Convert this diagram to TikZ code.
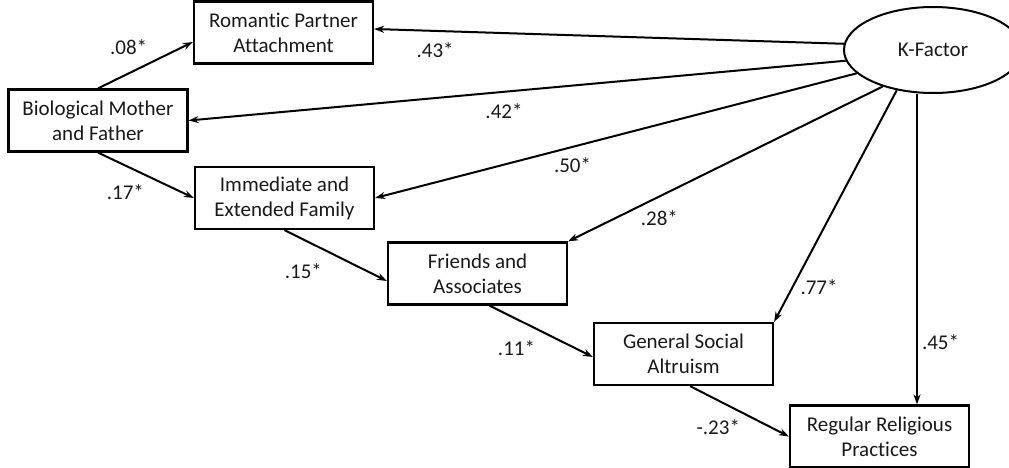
\documentclass[tikz,border=0pt]{standalone}
\usepackage{fontspec}
\setmainfont{Carlito}[Ligatures=NoCommon]
\usetikzlibrary{positioning,shapes.geometric,arrows.meta}

\tikzstyle{block} = [draw, rectangle, line width=2.2pt, minimum width=179pt, minimum height=62pt, inner sep=2pt, align=center]
\tikzstyle{factor} = [draw, ellipse, line width=2pt, minimum width=178pt, minimum height=86pt, inner sep=0pt]
\tikzstyle{coef} = [inner sep=3pt]

\begin{document}
\begin{tikzpicture}[>={Stealth[length=10pt,width=7pt]},line width=2pt,font=\fontsize{21}{25}\selectfont,text=black!90,on grid]
\useasboundingbox (0,0) rectangle (1009pt,-468pt);
\node[block] (bio) at (98pt,-120.5pt) {Biological Mother\\and Father};
\node[block,above right=88pt and 185.5pt of bio] (rom) {Romantic Partner\\Attachment};
\node[block,below right=77.5pt and 186.5pt of bio] (imm) {Immediate and\\Extended Family};
\node[block,below right=75.5pt and 193pt of imm] (fri) {Friends and\\Associates};
\node[block,below right=80.5pt and 206pt of fri] (gen) {General Social\\Altruism};
\node[block,below right=82.5pt and 196pt of gen] (reg) {Regular Religious\\Practices};
\node[factor,below right=17.5pt and 649.5pt of rom] (kf) {K-Factor};

% chain of social ties
\draw[->] (bio.north) -- node[coef,pos=0.59,above left=4pt]{.08*} ([yshift=-9.5pt]rom.west);
\draw[->] (bio.south) -- node[coef,pos=0.55,below left=4pt]{.17*} (imm.west);
\draw[->] (imm.south) -- node[coef,pos=0.46,below left=8pt]{.15*} ([yshift=-7.5pt]fri.west);
\draw[->] ([xshift=12pt]fri.south) -- node[coef,pos=0.52,below left=6pt]{.11*} ([yshift=-3pt]gen.west);
\draw[->] ([xshift=6.5pt]gen.south) -- node[coef,pos=0.56,below left=2pt]{-.23*} (reg.west);

% loadings of the K-Factor
\draw[->] (kf.176) -- node[coef,pos=0.87,below=8pt]{.43*} ([yshift=3.5pt]rom.east);
\draw[->] (kf.187) -- node[coef,pos=0.52,below=8pt]{.42*} (bio.east);
\draw[->] (kf.197) -- node[coef,pos=0.59,below=7pt]{.50*} (imm.east);
\draw[->] (kf.216) -- node[coef,pos=0.71,below=10pt]{.28*} (fri.north east);
\draw[->] (kf.228) -- node[coef,pos=0.85,right=4pt]{.77*} (gen.north east);
\draw[->] ([xshift=-16pt]kf.south) -- node[coef,pos=0.8,right=1pt]{.45*} ([xshift=-16pt]kf.south |- reg.north);

\end{tikzpicture}
\end{document}
